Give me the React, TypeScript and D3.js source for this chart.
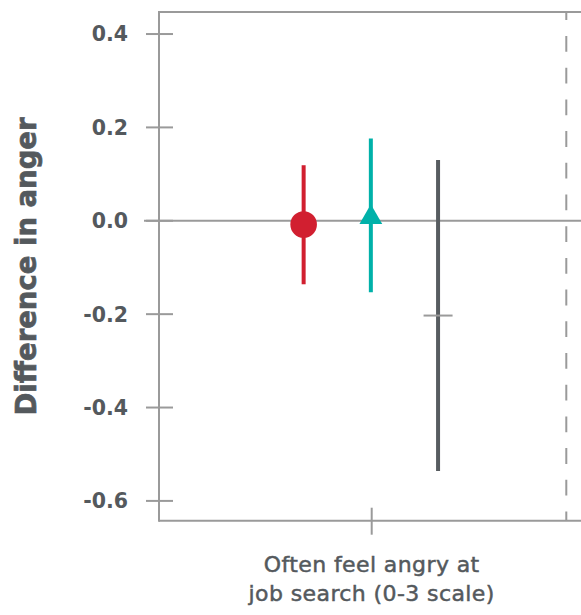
import React from "react";
import * as d3 from "d3";

const categories = ["Often feel angry at\njob search (0-3 scale)"];
const seriesNames = ["Group A", "Group B", "Group C"];
const seriesColors = ["#d11f30", "#00b1a9", "#575c60"];
const seriesShapes = ["circle", "triangle", "dash"];
const estimates = [-0.008, 0.007, -0.203];
const lowers = [-0.136, -0.153, -0.536];
const uppers = [0.119, 0.176, 0.13];
const yTicks = [0.4, 0.2, 0.0, -0.2, -0.4, -0.6];
const yLabel = "Difference in anger";

const W = 581;
const H = 615;
const left = 159;
const top = 12;
const bottom = 520.7;
const FONT = "'DejaVu Sans', sans-serif";
const AXIS = "#9a9a9a";
const TEXT = "#54595d";

export default function App() {
  const y = d3.scaleLinear().domain([-0.6424, 0.4472]).range([bottom, top]);
  const x = d3.scaleLinear().domain([0.5, 1.5]).range([left, 584.4]);
  const dodge = d3.scalePoint<string>().domain(seriesNames).range([-0.16, 0.156]);
  const catX = x(1);
  const dashX = 566.3;
  const tri = d3.symbol(d3.symbolTriangle, 225)()!;
  const lines = categories[0].split("\n");

  return (
    <svg width={W} height={H} style={{ position: "absolute", left: 0, top: 0, background: "#fff" }}>
      {/* frame */}
      <line x1={left} x2={W + 5} y1={top} y2={top} stroke={AXIS} strokeWidth={2} />
      <line x1={left} x2={W + 5} y1={bottom} y2={bottom} stroke={AXIS} strokeWidth={2} />
      <line x1={left} x2={left} y1={top - 1} y2={bottom + 1} stroke={AXIS} strokeWidth={2} />
      <line
        x1={dashX}
        x2={dashX}
        y1={top}
        y2={bottom}
        stroke={AXIS}
        strokeWidth={2}
        strokeDasharray="15.8,15.9"
        strokeDashoffset={7.7}
      />
      {/* zero line */}
      <line x1={144} x2={W + 5} y1={y(0)} y2={y(0)} stroke={AXIS} strokeWidth={2} />
      {/* y ticks */}
      {yTicks.map((t) => (
        <g key={t}>
          <line x1={left - 13} x2={left + 14} y1={y(t)} y2={y(t)} stroke={AXIS} strokeWidth={2} />
          <text
            x={128}
            y={y(t)}
            dy="0.36em"
            textAnchor="end"
            fontFamily={FONT}
            fontWeight={700}
            fontSize={20.5}
            fill={TEXT}
          >
            {t.toFixed(1)}
          </text>
        </g>
      ))}
      {/* x tick */}
      <line x1={catX} x2={catX} y1={bottom - 13} y2={bottom + 14} stroke={AXIS} strokeWidth={2} />
      {lines.map((l, i) => (
        <text
          key={i}
          x={catX}
          y={572 + i * 28.5}
          textAnchor="middle"
          fontFamily={FONT}
          fontSize={22}
          letterSpacing={0.4}
          fill={TEXT}
          stroke={TEXT}
          strokeWidth={0.5}
        >
          {l}
        </text>
      ))}
      {/* y label */}
      <text
        transform={`translate(36,${266.5}) rotate(-90)`}
        textAnchor="middle"
        fontFamily={FONT}
        fontWeight={700}
        fontSize={27.5}
        fill={TEXT}
        stroke={TEXT}
        strokeWidth={0.7}
      >
        {yLabel}
      </text>
      {/* series */}
      {seriesNames.map((s, i) => {
        const cx = x(1 + (dodge(s) as number));
        const cy = y(estimates[i]);
        return (
          <g key={s}>
            <line x1={cx} x2={cx} y1={y(uppers[i])} y2={y(lowers[i])} stroke={seriesColors[i]} strokeWidth={4} />
            {seriesShapes[i] === "circle" && <circle cx={cx} cy={cy} r={13.3} fill={seriesColors[i]} />}
            {seriesShapes[i] === "triangle" && (
              <path d={tri} transform={`translate(${cx},${cy})`} fill={seriesColors[i]} />
            )}
            {seriesShapes[i] === "dash" && (
              <line x1={cx - 14.5} x2={cx + 14.5} y1={cy} y2={cy} stroke={AXIS} strokeWidth={2} />
            )}
          </g>
        );
      })}
    </svg>
  );
}
